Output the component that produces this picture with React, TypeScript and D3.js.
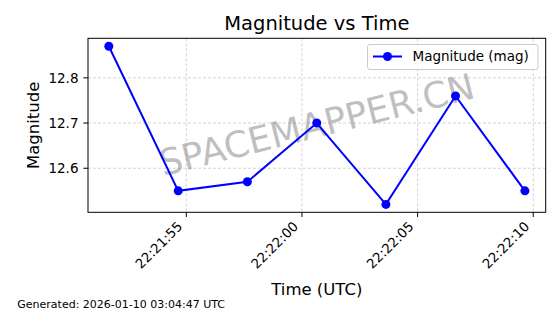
import React from "react";
import * as d3 from "d3";

const times: string[] = [
  "2026-01-09T22:21:51.650Z",
  "2026-01-09T22:21:54.650Z",
  "2026-01-09T22:21:57.640Z",
  "2026-01-09T22:22:00.640Z",
  "2026-01-09T22:22:03.630Z",
  "2026-01-09T22:22:06.640Z",
  "2026-01-09T22:22:09.640Z",
];
const magnitudes: number[] = [12.87, 12.55, 12.57, 12.7, 12.52, 12.76, 12.55];
const yTicks: number[] = [12.6, 12.7, 12.8];
const titleText = "Magnitude vs Time";
const xLabel = "Time (UTC)";
const yLabel = "Magnitude";
const legendLabel = "Magnitude (mag)";
const watermark = "SPACEMAPPER.CN";
const footer = "Generated: 2026-01-10 03:04:47 UTC";

const W = 560;
const H = 314;
const M = { left: 88, right: 545.7, top: 38.3, bottom: 212.3 };
const FONT = "'DejaVu Sans', sans-serif";

export default function App() {
  const dates = times.map((t) => new Date(t));
  const [t0, t1] = d3.extent(dates) as [Date, Date];
  const span = t1.getTime() - t0.getTime();
  const x = d3
    .scaleUtc()
    .domain([new Date(t0.getTime() - span * 0.05), new Date(t1.getTime() + span * 0.05)])
    .range([M.left, M.right]);
  const [v0, v1] = d3.extent(magnitudes) as [number, number];
  const vs = v1 - v0;
  const y = d3
    .scaleLinear()
    .domain([v0 - vs * 0.05, v1 + vs * 0.05])
    .range([M.bottom, M.top]);
  const xTicks = x.ticks(d3.utcSecond.every(5) as any);
  const fmt = d3.utcFormat("%H:%M:%S");
  const pts = dates.map((d, i) => [x(d), y(magnitudes[i])] as [number, number]);
  const line = d3.line()(pts) || "";
  const cx = (M.left + M.right) / 2;
  const cy = (M.top + M.bottom) / 2;

  return (
    <svg
      width={W}
      height={H}
      style={{ position: "absolute", left: 0, top: 0, background: "#fff" }}
      fontFamily={FONT}
    >
      <rect x={0} y={0} width={W} height={H} fill="#fff" />
      {/* grid */}
      {xTicks.map((t, i) => (
        <line
          key={"gx" + i}
          x1={x(t)}
          x2={x(t)}
          y1={M.top}
          y2={M.bottom}
          stroke="#b0b0b0"
          strokeOpacity={0.7}
          strokeWidth={0.8}
          strokeDasharray="3,2"
        />
      ))}
      {yTicks.map((v, i) => (
        <line
          key={"gy" + i}
          x1={M.left}
          x2={M.right}
          y1={y(v)}
          y2={y(v)}
          stroke="#b0b0b0"
          strokeOpacity={0.7}
          strokeWidth={0.8}
          strokeDasharray="3,2"
        />
      ))}
      {/* watermark */}
      <text
        x={cx}
        y={cy + 12}
        transform={`rotate(-14 ${cx} ${cy})`}
        textAnchor="middle"
        fontSize={36}
        fill="#808080"
        fillOpacity={0.5}
      >
        {watermark}
      </text>
      {/* series */}
      <path d={line} fill="none" stroke="#0000ff" strokeWidth={2} />
      {pts.map((p, i) => (
        <circle key={"p" + i} cx={p[0]} cy={p[1]} r={4.5} fill="#0000ff" />
      ))}
      {/* spines */}
      <rect
        x={M.left}
        y={M.top}
        width={M.right - M.left}
        height={M.bottom - M.top}
        fill="none"
        stroke="#000"
        strokeWidth={1}
      />
      {/* x ticks */}
      {xTicks.map((t, i) => (
        <g key={"xt" + i}>
          <line x1={x(t)} x2={x(t)} y1={M.bottom} y2={M.bottom + 4.7} stroke="#000" strokeWidth={1} />
          <text
            transform={`translate(${x(t) - 3},${M.bottom + 15}) rotate(-45)`}
            textAnchor="end"
            fontSize={13.3}
            fill="#000"
          >
            {fmt(t)}
          </text>
        </g>
      ))}
      {/* y ticks */}
      {yTicks.map((v, i) => (
        <g key={"yt" + i}>
          <line x1={M.left - 4.7} x2={M.left} y1={y(v)} y2={y(v)} stroke="#000" strokeWidth={1} />
          <text x={M.left - 9.5} y={y(v)} dy="0.35em" textAnchor="end" fontSize={13.5} fill="#000">
            {d3.format(".1f")(v)}
          </text>
        </g>
      ))}
      {/* title & labels */}
      <text x={cx} y={30} textAnchor="middle" fontSize={19.5} fill="#000">
        {titleText}
      </text>
      <text x={cx} y={295} textAnchor="middle" fontSize={16.5} fill="#000">
        {xLabel}
      </text>
      <text
        transform={`translate(39,${cy}) rotate(-90)`}
        textAnchor="middle"
        fontSize={16.5}
        fill="#000"
      >
        {yLabel}
      </text>
      {/* legend */}
      <rect
        x={367.5}
        y={44.5}
        width={170.5}
        height={25}
        rx={2.5}
        fill="#fff"
        fillOpacity={0.8}
        stroke="#cccccc"
        strokeWidth={1}
      />
      <line x1={373} x2={402} y1={56.5} y2={56.5} stroke="#0000ff" strokeWidth={2} />
      <circle cx={387.5} cy={56.5} r={4.5} fill="#0000ff" />
      <text x={412.5} y={56.5} dy="0.35em" fontSize={13.5} fill="#000">
        {legendLabel}
      </text>
      {/* footer */}
      <text x={17.3} y={308} fontSize={11} fill="#000">
        {footer}
      </text>
    </svg>
  );
}
